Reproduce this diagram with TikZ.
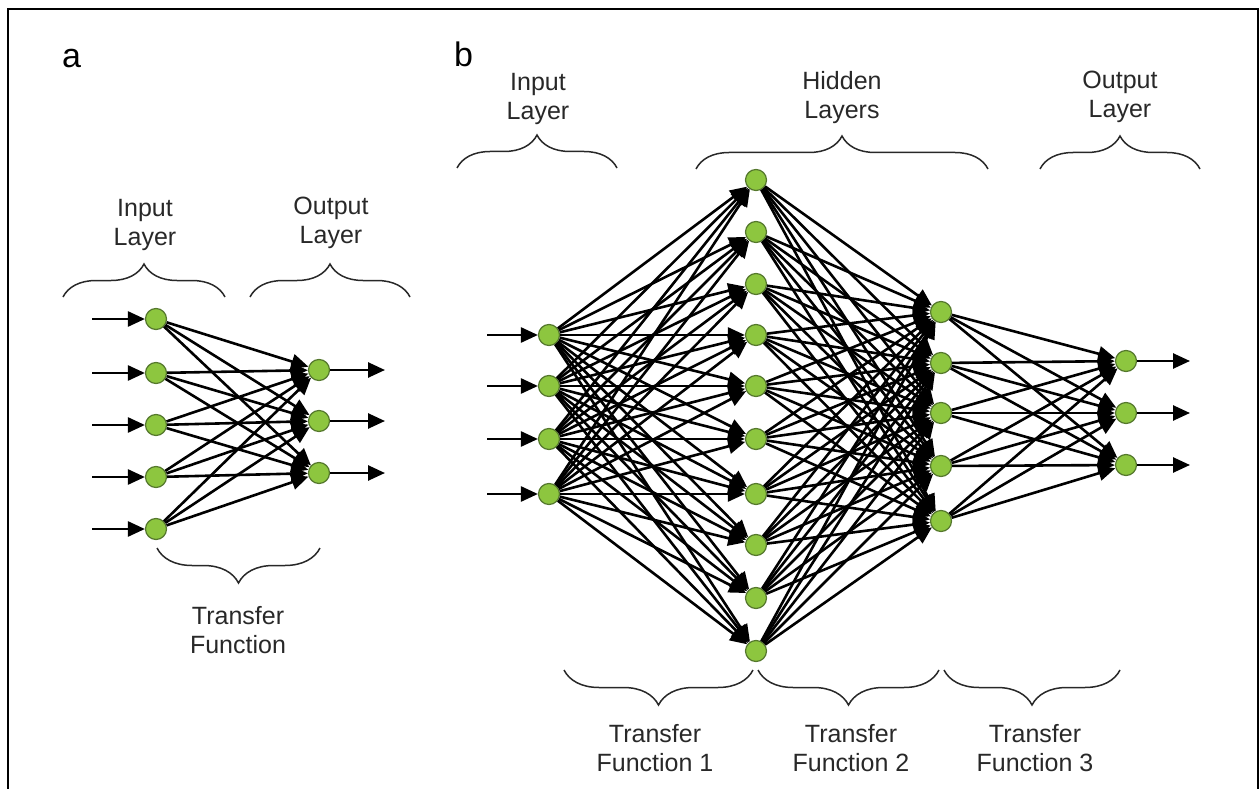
\documentclass[tikz,border=0pt]{standalone}
\usepackage{fontspec}
\setmainfont{Liberation Sans}
\usetikzlibrary{arrows.meta,decorations.pathreplacing}
\definecolor{nodefill}{RGB}{141,198,63}
\definecolor{nodeedge}{RGB}{85,120,45}
\definecolor{txt}{RGB}{40,40,40}
\tikzset{
  neuron/.style={circle,fill=nodefill,draw=nodeedge,line width=1.2pt,minimum size=21pt,inner sep=0pt},
  conn/.style={line width=2.6pt,-{Triangle[length=17pt,width=15pt]}},
  brcup/.style={decorate,decoration={brace,amplitude=33pt},line width=1.5pt,draw=txt},
  brcdown/.style={decorate,decoration={brace,amplitude=35pt,mirror},line width=1.5pt,draw=txt},
  lbl/.style={font=\fontsize{25}{29}\selectfont,text=txt,align=center,inner sep=0pt,anchor=north},
  panel/.style={font=\fontsize{34}{40}\selectfont,text=black,inner sep=0pt,anchor=base west},
  frame/.style={line width=2.5pt,draw=black}
}
\begin{document}
\begin{tikzpicture}[x=1pt,y=-1pt]
\useasboundingbox (0,0) rectangle (1259,789);
% frame
\coordinate (f1) at (8,789);
\coordinate (f2) at (8,9);
\coordinate (f3) at (1258,9);
\coordinate (f4) at (1258,789);
\draw[frame] (f1) -- (f2) -- (f3) -- (f4);

% ---------- panel a ----------
\node[panel] (la) at (62,68) {a};
\foreach \y [count=\i] in {319,373,425,477,529} {
  \node[neuron] (aI\i) at (156,\y) {};
  \coordinate (aS\i) at (92,\y);
  \draw[conn] (aS\i) -- (aI\i);
}
\foreach \y [count=\i] in {370,421,473} {
  \node[neuron] (aO\i) at (319,\y) {};
  \coordinate (aE\i) at (385,\y);
  \draw[conn] (aO\i) -- (aE\i);
}
\foreach \i in {1,...,5} \foreach \j in {1,2,3} \draw[conn] (aI\i) -- (aO\j);

\coordinate (abI1) at (63,297); \coordinate (abI2) at (225,297);
\draw[brcup] (abI1) -- (abI2);
\coordinate (abO1) at (250,297); \coordinate (abO2) at (410,297);
\draw[brcup] (abO1) -- (abO2);
\coordinate (abT1) at (157,548); \coordinate (abT2) at (320,548);
\draw[brcdown] (abT1) -- (abT2);

\node[lbl] (taI) at (145,199) {Input\\Layer};
\node[lbl] (taO) at (331,197) {Output\\Layer};
\node[lbl] (taT) at (238,606) {Transfer\\Function};

% ---------- panel b ----------
\node[panel] (lb) at (454,67) {b};
\foreach \y [count=\i] in {335,386,439,494} {
  \node[neuron] (bI\i) at (549,\y) {};
  \coordinate (bS\i) at (487,\y);
  \draw[conn] (bS\i) -- (bI\i);
}
\foreach \y [count=\i] in {180,232,284,335,386,439,494,545,598,651} {
  \node[neuron] (bH\i) at (756,\y) {};
}
\foreach \y [count=\i] in {312,363,413,466,521} {
  \node[neuron] (bK\i) at (941,\y) {};
}
\foreach \y [count=\i] in {361,413,465} {
  \node[neuron] (bO\i) at (1126,\y) {};
  \coordinate (bE\i) at (1190,\y);
  \draw[conn] (bO\i) -- (bE\i);
}
\foreach \i in {1,...,4} \foreach \j in {1,...,10} \draw[conn] (bI\i) -- (bH\j);
\foreach \i in {1,...,10} \foreach \j in {1,...,5} \draw[conn] (bH\i) -- (bK\j);
\foreach \i in {1,...,5} \foreach \j in {1,2,3} \draw[conn] (bK\i) -- (bO\j);

\coordinate (bbI1) at (457,168); \coordinate (bbI2) at (617,168);
\draw[brcup] (bbI1) -- (bbI2);
\coordinate (bbH1) at (696,169); \coordinate (bbH2) at (988,169);
\draw[brcup] (bbH1) -- (bbH2);
\coordinate (bbO1) at (1040,169); \coordinate (bbO2) at (1200,169);
\draw[brcup] (bbO1) -- (bbO2);
\coordinate (bbT1a) at (564,670); \coordinate (bbT1b) at (753,670);
\draw[brcdown] (bbT1a) -- (bbT1b);
\coordinate (bbT2a) at (758,670); \coordinate (bbT2b) at (939,670);
\draw[brcdown] (bbT2a) -- (bbT2b);
\coordinate (bbT3a) at (944,670); \coordinate (bbT3b) at (1120,670);
\draw[brcdown] (bbT3a) -- (bbT3b);

\node[lbl] (tbI) at (538,73) {Input\\Layer};
\node[lbl] (tbH) at (842,71) {Hidden\\Layers};
\node[lbl] (tbO) at (1120,71) {Output\\Layer};
\node[lbl] (tbT1) at (655,724) {Transfer\\Function 1};
\node[lbl] (tbT2) at (851,724) {Transfer\\Function 2};
\node[lbl] (tbT3) at (1035,724) {Transfer\\Function 3};
\end{tikzpicture}
\end{document}
